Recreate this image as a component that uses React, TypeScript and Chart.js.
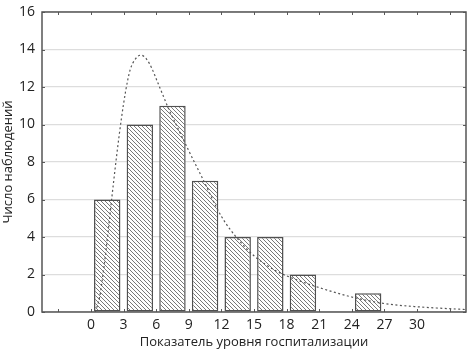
import React, { useEffect, useRef } from "react";
import { Chart, registerables } from "chart.js";

Chart.register(...registerables);

const binCenters = [1.5, 4.5, 7.5, 10.5, 13.5, 16.5, 19.5, 22.5, 25.5];
const binCounts: (number | null)[] = [6, 10, 11, 7, 4, 4, 2, null, 1];

const curveX = [0.4, 0.8, 1.2, 1.6, 2.0, 2.4, 2.8, 3.2, 3.6, 4.1, 4.6, 5.1, 5.6, 6.1, 6.6, 7.1, 8.0, 9.0, 10.2, 12.0, 13.5, 15.0, 17.0, 19.0, 21.0, 24.0, 27.0, 30.0, 34.5];
const curveY = [0, 0.8, 2.4, 4.4, 6.5, 8.5, 10.3, 11.8, 12.9, 13.5, 13.7, 13.5, 13.0, 12.3, 11.6, 10.9, 9.8, 8.6, 7.2, 5.1, 3.9, 3.0, 2.2, 1.7, 1.3, 0.8, 0.45, 0.28, 0.13];

const xTickLabels = [0, 3, 6, 9, 12, 15, 18, 21, 24, 27, 30];
const xTickMarks = [-3, 0, 3, 6, 9, 12, 15, 18, 21, 24, 27, 30, 33];
const yTicks = [0, 2, 4, 6, 8, 10, 12, 14, 16];

const xTitle = "Показатель уровня госпитализации";
const yTitle = "Число наблюдений";

function makeHatch(): CanvasPattern | string {
  const s = 4;
  const c = document.createElement("canvas");
  c.width = s;
  c.height = s;
  const g = c.getContext("2d");
  if (!g) return "#fff";
  g.fillStyle = "#ffffff";
  g.fillRect(0, 0, s, s);
  g.strokeStyle = "#6a6a6a";
  g.lineWidth = 0.9;
  g.beginPath();
  g.moveTo(-1, -1);
  g.lineTo(s + 1, s + 1);
  g.moveTo(s - 1, -1);
  g.lineTo(s + 1, 1);
  g.moveTo(-1, s - 1);
  g.lineTo(1, s + 1);
  g.stroke();
  const p = g.createPattern(c, "repeat");
  return p || "#fff";
}

const framePlugin = {
  id: "frame",
  afterDatasetsDraw(chart: any) {
    const { ctx, chartArea, scales } = chart;
    const { left, right, top, bottom } = chartArea;
    ctx.save();
    ctx.strokeStyle = "#5a5a5a";
    ctx.lineWidth = 1;
    ctx.beginPath();
    xTickMarks.forEach((v) => {
      const px = Math.round(scales.x.getPixelForValue(v)) + 0.5;
      ctx.moveTo(px, bottom);
      ctx.lineTo(px, bottom - 3);
      ctx.moveTo(px, top);
      ctx.lineTo(px, top + 3);
    });
    yTicks.forEach((v) => {
      const py = Math.round(scales.y.getPixelForValue(v)) + 0.5;
      ctx.moveTo(left, py);
      ctx.lineTo(left + 3, py);
      ctx.moveTo(right, py);
      ctx.lineTo(right - 3, py);
    });
    ctx.stroke();
    ctx.strokeStyle = "#555";
    ctx.lineWidth = 1.5;
    ctx.strokeRect(left, top, right - left, bottom - top);
    ctx.restore();
  },
};

export default function App() {
  const ref = useRef<HTMLCanvasElement | null>(null);
  useEffect(() => {
    if (!ref.current) return;
    const font = "'Open Sans', 'Noto Sans', sans-serif";
    const chart = new Chart(ref.current, {
      data: {
        datasets: [
          {
            type: "line",
            data: curveX.map((x, i) => ({ x, y: curveY[i] })),
            borderColor: "#555",
            borderWidth: 1.2,
            borderDash: [2, 2.5],
            pointRadius: 0,
            tension: 0.4,
            cubicInterpolationMode: "monotone",
            fill: false,
            order: 0,
          } as any,
          {
            type: "bar",
            data: binCenters.map((x, i) => ({ x, y: binCounts[i] })),
            backgroundColor: makeHatch() as any,
            borderColor: "#505050",
            borderWidth: 1.5,
            borderSkipped: false,
            barPercentage: 0.81,
            categoryPercentage: 1,
            order: 1,
          } as any,
        ],
      },
      options: {
        animation: false,
        responsive: true,
        maintainAspectRatio: false,
        layout: { padding: { top: 12, right: 5, left: 0, bottom: 0 } },
        plugins: { legend: { display: false }, tooltip: { enabled: false } },
        scales: {
          x: {
            type: "linear",
            min: -4.5,
            max: 34.5,
            offset: false,
            afterBuildTicks: (s: any) => {
              s.ticks = xTickLabels.map((v) => ({ value: v }));
            },
            afterFit: (s: any) => {
              s.height = 43;
              s.paddingLeft = 0;
              s.paddingRight = 0;
            },
            grid: { display: false, drawTicks: false, offset: false },
            border: { display: false },
            ticks: {
              autoSkip: false,
              maxRotation: 0,
              padding: 5,
              color: "#222",
              font: { family: font, size: 14 },
            },
            title: {
              display: true,
              text: xTitle,
              color: "#222",
              font: { family: font, size: 13 },
              padding: { top: 0, bottom: 5 },
            },
          },
          y: {
            type: "linear",
            min: 0,
            max: 16,
            afterBuildTicks: (s: any) => {
              s.ticks = yTicks.map((v) => ({ value: v }));
            },
            afterFit: (s: any) => {
              s.width = 42;
              s.paddingTop = 0;
              s.paddingBottom = 0;
            },
            grid: { color: "#dddddd", lineWidth: 1.2, drawTicks: false },
            border: { display: false },
            ticks: {
              padding: 7,
              color: "#222",
              font: { family: font, size: 14 },
            },
            title: {
              display: true,
              text: yTitle,
              color: "#222",
              font: { family: font, size: 13 },
              padding: { top: 0, bottom: 0 },
            },
          },
        },
      },
      plugins: [framePlugin],
    });
    return () => chart.destroy();
  }, []);
  return (
    <div style={{ position: "absolute", left: 0, top: 0, width: 471, height: 355 }}>
      <canvas ref={ref} />
    </div>
  );
}
